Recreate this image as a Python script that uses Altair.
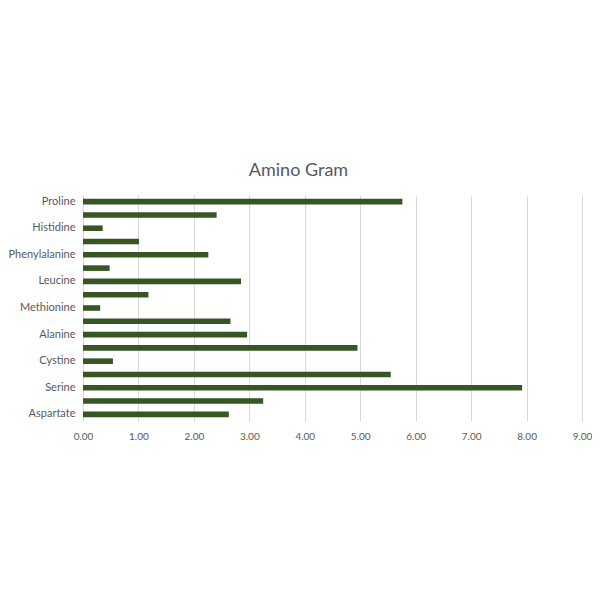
import altair as alt
import pandas as pd

amino = ["Aspartate", "Threonine", "Serine", "Glutamate", "Cystine", "Glycine",
         "Alanine", "Valine", "Methionine", "Isoleucine", "Leucine", "Tyrosine",
         "Phenylalanine", "Lysine", "Histidine", "Arginine", "Proline"]
grams = [2.63, 3.25, 7.92, 5.55, 0.54, 4.95, 2.96, 2.66, 0.31, 1.18, 2.85, 0.48,
         2.26, 1.01, 0.355, 2.41, 5.76]
shown_labels = ["Aspartate", "Serine", "Cystine", "Alanine", "Methionine",
                "Leucine", "Phenylalanine", "Histidine", "Proline"]
x_ticks = [0, 1, 2, 3, 4, 5, 6, 7, 8, 9]

df = pd.DataFrame({"amino": amino, "gram": grams})

font = "Lato"
grey = "#595959"

chart = alt.Chart(df).mark_bar(color="#375623").encode(
    x=alt.X("gram:Q",
            scale=alt.Scale(domain=[0, 9], nice=False),
            axis=alt.Axis(values=x_ticks, format=".2f", title=None, domain=False,
                          ticks=False, labelPadding=10, labelFontSize=10,
                          labelColor=grey, labelFont=font, gridColor="#d9d9d9",
                          labelFlush=False)),
    y=alt.Y("amino:N", sort=amino[::-1],
            scale=alt.Scale(paddingInner=0.58, paddingOuter=0.29),
            axis=alt.Axis(values=shown_labels, title=None, domain=False, ticks=False,
                          grid=False, labelPadding=8, labelFontSize=11,
                          labelColor=grey, labelFont=font)),
).properties(
    width=499,
    height=226,
    title=alt.TitleParams("Amino Gram", fontSize=18, font=font, color=grey,
                          fontWeight="normal", offset=15, dx=-34),
    autosize=alt.AutoSizeParams(type="none"),
    padding={"left": 75, "top": 187, "right": 10, "bottom": 60},
).configure_view(stroke=None)

chart.save("out.html", embed_options={"renderer": "svg", "actions": False})
